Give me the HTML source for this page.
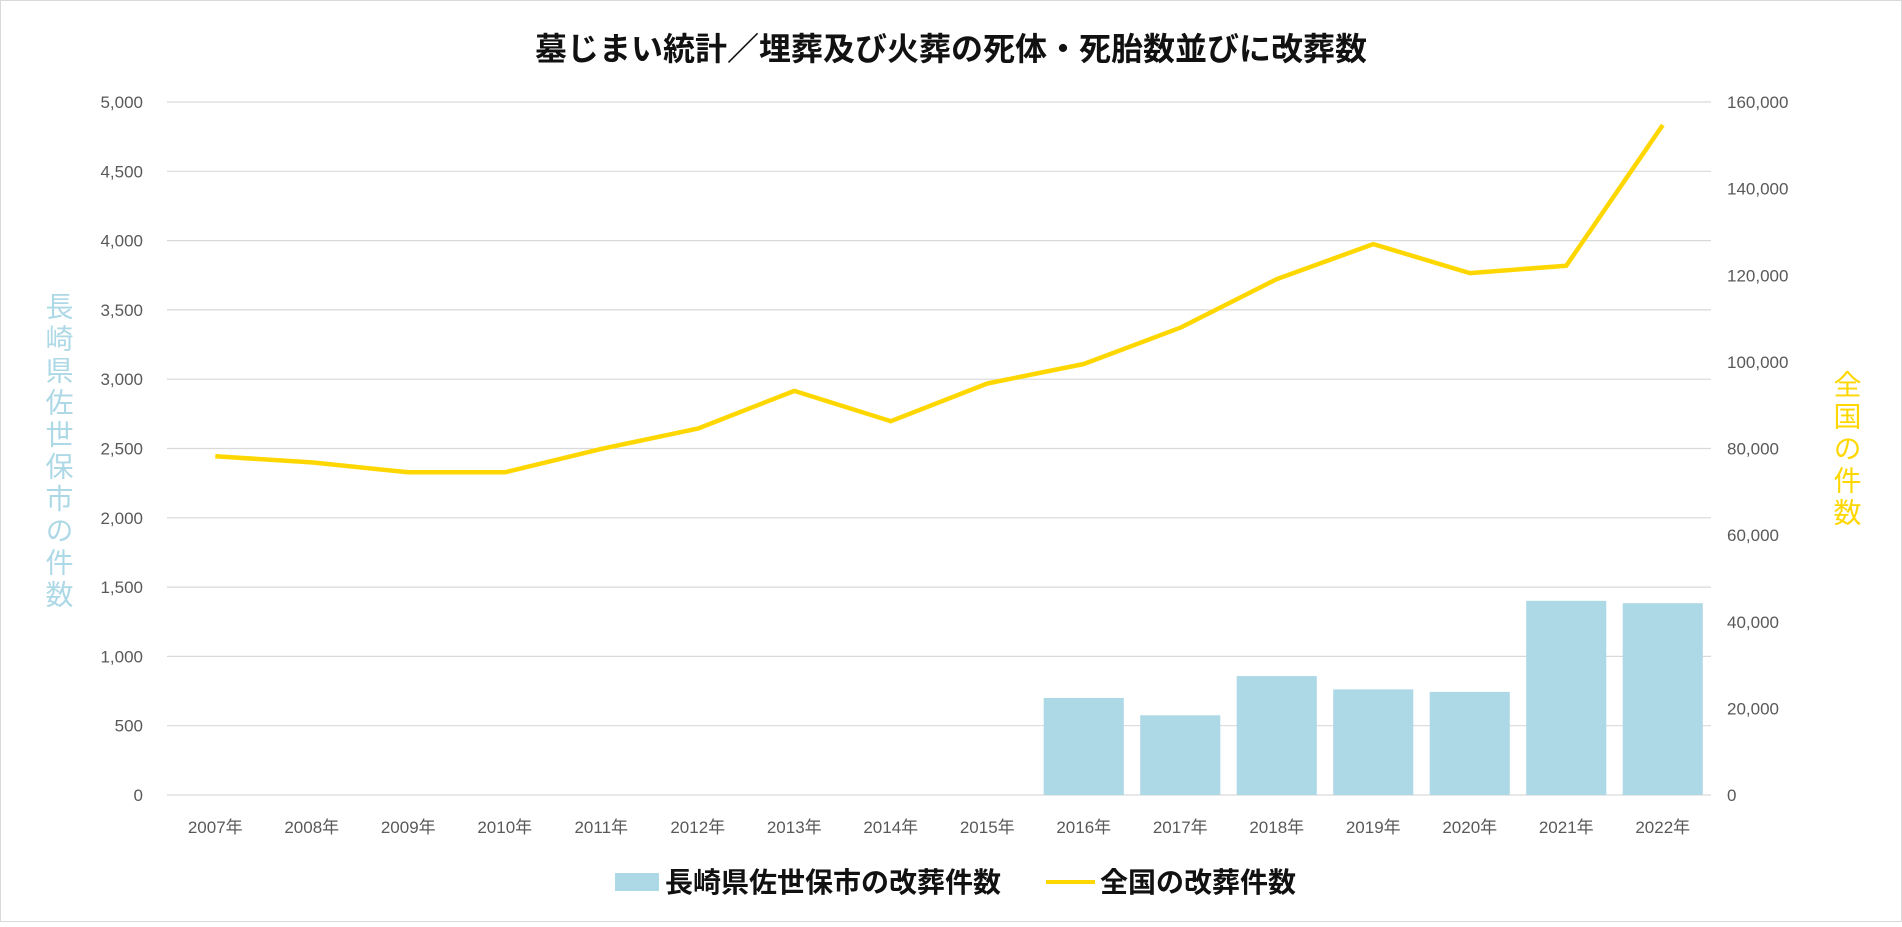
<!DOCTYPE html>
<html><head><meta charset="utf-8"><style>
html,body{margin:0;padding:0;background:#fff}
body{width:1902px;height:922px;overflow:hidden;font-family:"Liberation Sans","Noto Sans CJK JP",sans-serif}
</style></head><body>
<svg id="chart" width="1902" height="922" xmlns="http://www.w3.org/2000/svg" font-family="Liberation Sans, Noto Sans CJK JP, sans-serif">
<rect x="0.5" y="0.5" width="1901" height="921" fill="#fff" stroke="#d9d9d9"/>
<text x="951" y="60" text-anchor="middle" font-size="32" font-weight="bold" fill="#111">墓じまい統計／埋葬及び火葬の死体・死胎数並びに改葬数</text>
<g id="grid"></g>
<g id="bars"></g>
<g id="line"></g>
<g id="axes"></g>
<text font-size="28" fill="#add8e6" transform="translate(58,452)" text-anchor="middle" style="writing-mode:vertical-rl" letter-spacing="4">長崎県佐世保市の件数</text>
<text font-size="28" fill="#ffd700" transform="translate(1846,450)" text-anchor="middle" style="writing-mode:vertical-rl" letter-spacing="4">全国の件数</text>
<g>
<rect x="615" y="873" width="44" height="18" fill="#add8e6"/>
<text x="665" y="892" font-size="28" font-weight="bold" fill="#111">長崎県佐世保市の改葬件数</text>
<line x1="1046" y1="882" x2="1095" y2="882" stroke="#ffd700" stroke-width="4"/>
<text x="1100" y="892" font-size="28" font-weight="bold" fill="#111">全国の改葬件数</text>
</g>
</svg>
<script>
const categories=["2007年","2008年","2009年","2010年","2011年","2012年","2013年","2014年","2015年","2016年","2017年","2018年","2019年","2020年","2021年","2022年"];
const cityValues=[0,0,0,0,0,0,0,0,0,700,575,858,762,744,1401,1384];
const nationalValues=[78200,76800,74500,74500,79900,84600,93300,86300,95000,99500,107900,119100,127200,120500,122200,154700];
const leftTicks=[0,500,1000,1500,2000,2500,3000,3500,4000,4500,5000];
const rightTicks=[0,20000,40000,60000,80000,100000,120000,140000,160000];
const NS="http://www.w3.org/2000/svg";
const X0=167,X1=1711,Y0=795,Y1=102;
const band=(X1-X0)/categories.length;
const xC=i=>X0+band*(i+0.5);
const yL=v=>Y0-(v/5000)*(Y0-Y1);
const yR=v=>Y0-(v/160000)*(Y0-Y1);
const fmt=v=>v.toLocaleString("en-US");
function mk(t,a,p){const e=document.createElementNS(NS,t);for(const k in a)e.setAttribute(k,a[k]);p.appendChild(e);return e;}
const grid=document.getElementById("grid"),axes=document.getElementById("axes"),bars=document.getElementById("bars"),line=document.getElementById("line");
leftTicks.forEach(v=>{
 const g=mk("line",{x1:X0,x2:X1,y1:yL(v),y2:yL(v),stroke:"#d9d9d9","stroke-width":1.2},grid);
 
 
 const t=mk("text",{x:143,y:yL(v)+6,"text-anchor":"end","font-size":17,fill:"#595959"},axes);
 t.textContent=fmt(v);
 
 
});
rightTicks.forEach(v=>{
 const t=mk("text",{x:1727,y:yR(v)+6,"font-size":17,fill:"#595959"},axes);
 t.textContent=fmt(v);
 
 
});
categories.forEach((c,i)=>{
 const t=mk("text",{x:xC(i),y:833,"text-anchor":"middle","font-size":17,fill:"#595959"},axes);
 t.textContent=c;
 
 
 const v=cityValues[i];
 if(v>0){
  const bw=band*0.83;
  const b=mk("rect",{x:xC(i)-bw/2,y:yL(v),width:bw,height:Y0-yL(v),fill:"#add8e6"},bars);
  
  
 }
});
const pts=nationalValues.map((v,i)=>xC(i).toFixed(1)+","+yR(v).toFixed(1)).join(" ");
const pl=mk("polyline",{points:pts,fill:"none",stroke:"#ffd700","stroke-width":4.5,"stroke-linejoin":"round"},line);


</script>
</body></html>
